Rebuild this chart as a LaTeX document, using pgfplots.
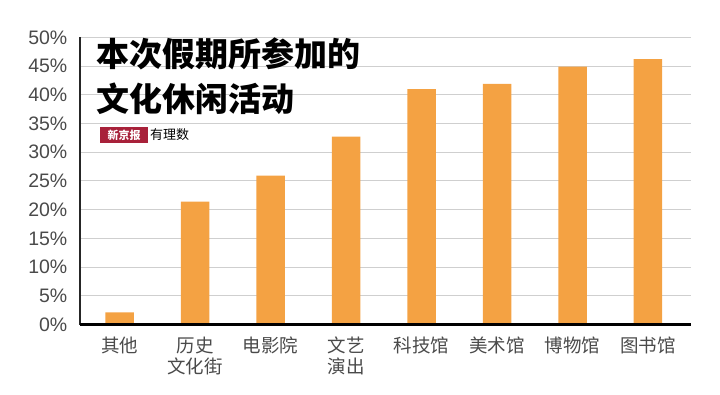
\documentclass[border=0pt]{standalone}
\usepackage{pgfplots}
\pgfplotsset{compat=1.18}
\usepackage{fontspec}
\setmainfont{Liberation Sans}
\newfontfamily\cjk{Noto Sans CJK SC}
\definecolor{barc}{HTML}{F4A243}
\definecolor{gridc}{HTML}{CFCFCF}
\definecolor{labc}{HTML}{4A4A4A}
\definecolor{logored}{HTML}{A8213A}
\begin{document}
\begin{tikzpicture}
\begin{axis}[
  at={(0,0)}, anchor=south west,
  scale only axis,
  width=611pt, height=287.2pt,
  xmin=-0.525, xmax=7.57,
  ymin=0, ymax=50,
  ytick={0,5,...,50},
  yticklabel={\pgfmathprintnumber{\tick}\%},
  /pgf/number format/assume math mode=true,
  xtick={0,...,7},
  xticklabels={其他,{历史\\文化街},电影院,{文艺\\演出},科技馆,美术馆,博物馆,图书馆},
  xticklabel style={font=\cjk\fontsize{18.5}{21.5}\selectfont, text=labc, align=center, anchor=north, inner sep=0pt, yshift=-12pt},
  yticklabel style={font=\fontsize{19.5}{21}\selectfont, text=labc, anchor=east, inner sep=0pt, xshift=-12.5pt},
  major tick length=0pt,
  ymajorgrids,
  grid style={gridc, line width=1pt},
  axis line style={draw=none},
  clip=false,
]
\addplot[ybar, bar width=28.5pt, fill=barc, draw=none] coordinates {
  (0,2.1) (1,21.4) (2,25.9) (3,32.7) (4,41.0) (5,41.9) (6,44.9) (7,46.2)
};
\draw[black!85, line width=1.3pt] (axis cs:-0.525,0) -- (axis cs:-0.525,50);
\draw[black, line width=2.5pt] (axis cs:-0.525,0) -- (axis cs:7.57,0);
\end{axis}
\path[use as bounding box] (-80pt,-69.5pt) rectangle (640pt,324.5pt);
\node[anchor=west, inner sep=0pt, font=\cjk\bfseries\fontsize{33}{36}\selectfont] at (16pt,270.5pt) {本次假期所参加的};
\node[anchor=west, inner sep=0pt, font=\cjk\bfseries\fontsize{33}{36}\selectfont] at (16pt,225.5pt) {文化休闲活动};
\fill[logored] (20pt,181.5pt) rectangle (68pt,197.5pt);
\node[font=\cjk\bfseries\fontsize{11}{12}\selectfont, text=white, inner sep=0pt] at (44pt,189.5pt) {新京报};
\node[font=\cjk\fontsize{13}{14}\selectfont, anchor=west, inner sep=0pt] at (70pt,190pt) {有理数};
\end{tikzpicture}
\end{document}
